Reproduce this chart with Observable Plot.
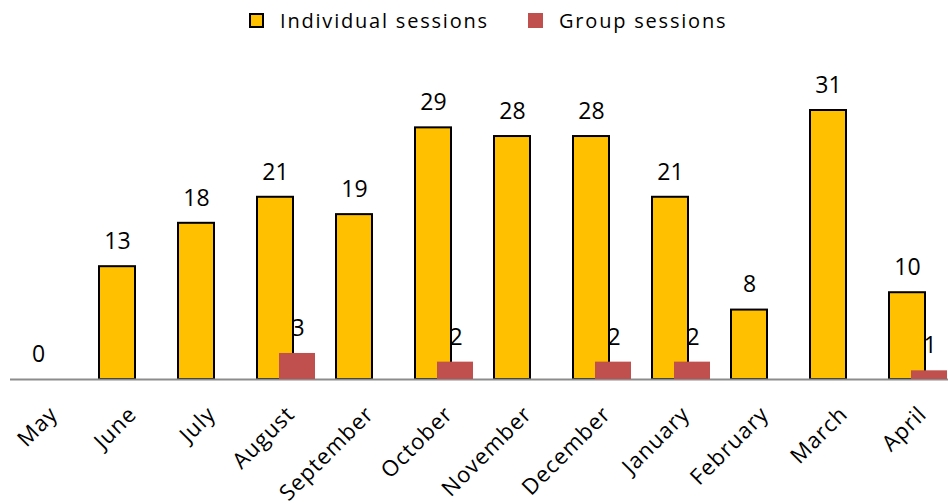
<!DOCTYPE html>
<html>
<head>
<meta charset="utf-8">
<script src="https://cdn.jsdelivr.net/npm/d3@7"></script>
<script src="https://cdn.jsdelivr.net/npm/@observablehq/plot@0.6"></script>
<style>
  html, body { margin: 0; padding: 0; background: #fff; }
  body { width: 948px; height: 504px; overflow: hidden; font-family: "Open Sans", sans-serif; }
  #legend { position: relative; height: 40px; font-size: 20px; letter-spacing: 1.8px; color: #000; }
  .item { position: absolute; top: 0; height: 40px; display: flex; align-items: center; }
  .sw { display: inline-block; box-sizing: border-box; width: 15px; height: 15px; margin-right: 16px; }
  #chart svg { display: block; }
</style>
</head>
<body>
<div id="legend">
  <div class="item" style="left:249px"><span class="sw" style="background:#FFC000;border:2px solid #000"></span>Individual sessions</div>
  <div class="item" style="left:528px"><span class="sw" style="background:#C0504D"></span>Group sessions</div>
</div>
<div id="chart"></div>
<script>
const months = ["May","June","July","August","September","October","November","December","January","February","March","April"];
const individual = [0,13,18,21,19,29,28,28,21,8,31,10];
const group = [0,0,0,3,0,2,0,2,2,0,0,1];

const indData = months.map((m, i) => ({month: m, value: individual[i]}));
const grpData = months.map((m, i) => ({month: m, value: group[i]}));
const grpLabeled = grpData.filter(d => d.value > 0);

const fontFamily = "Open Sans, sans-serif";

const chart = Plot.plot({
  width: 948,
  height: 464,
  marginTop: 70,
  marginBottom: 125,
  marginLeft: 0,
  marginRight: 0,
  style: {fontFamily, fontSize: "22px", color: "#000", background: "#fff"},
  x: {domain: months, padding: 0, axis: null},
  y: {domain: [0, 31], axis: null},
  marks: [
    Plot.text(grpLabeled, {x: "month", y: "value", text: d => String(d.value), dx: 21, dy: -25, fontSize: 23, fill: "#000"}),
    Plot.barY(indData, {x: "month", y: "value", fill: "#FFC000", stroke: "#000", strokeWidth: 2, insetLeft: 20, insetRight: 23}),
    Plot.ruleY([0], {stroke: "#8c8c8c", strokeWidth: 2, insetLeft: 10}),
    Plot.barY(grpLabeled, {x: "month", y: "value", fill: "#C0504D", insetLeft: 42, insetRight: 1}),
    Plot.text(indData, {x: "month", y: "value", text: d => String(d.value), dx: -1.5, dy: -25, fontSize: 23, fill: "#000"}),
    Plot.text(months, {x: d => d, frameAnchor: "bottom", text: d => d, rotate: -45, textAnchor: "end", dx: 19, dy: 36, fontSize: 22, fill: "#000"})
  ]
});
d3.select(chart).selectAll("text").filter(function() { return months.includes(this.textContent); }).style("letter-spacing", "1px");
document.getElementById("chart").appendChild(chart);
</script>
</body>
</html>
